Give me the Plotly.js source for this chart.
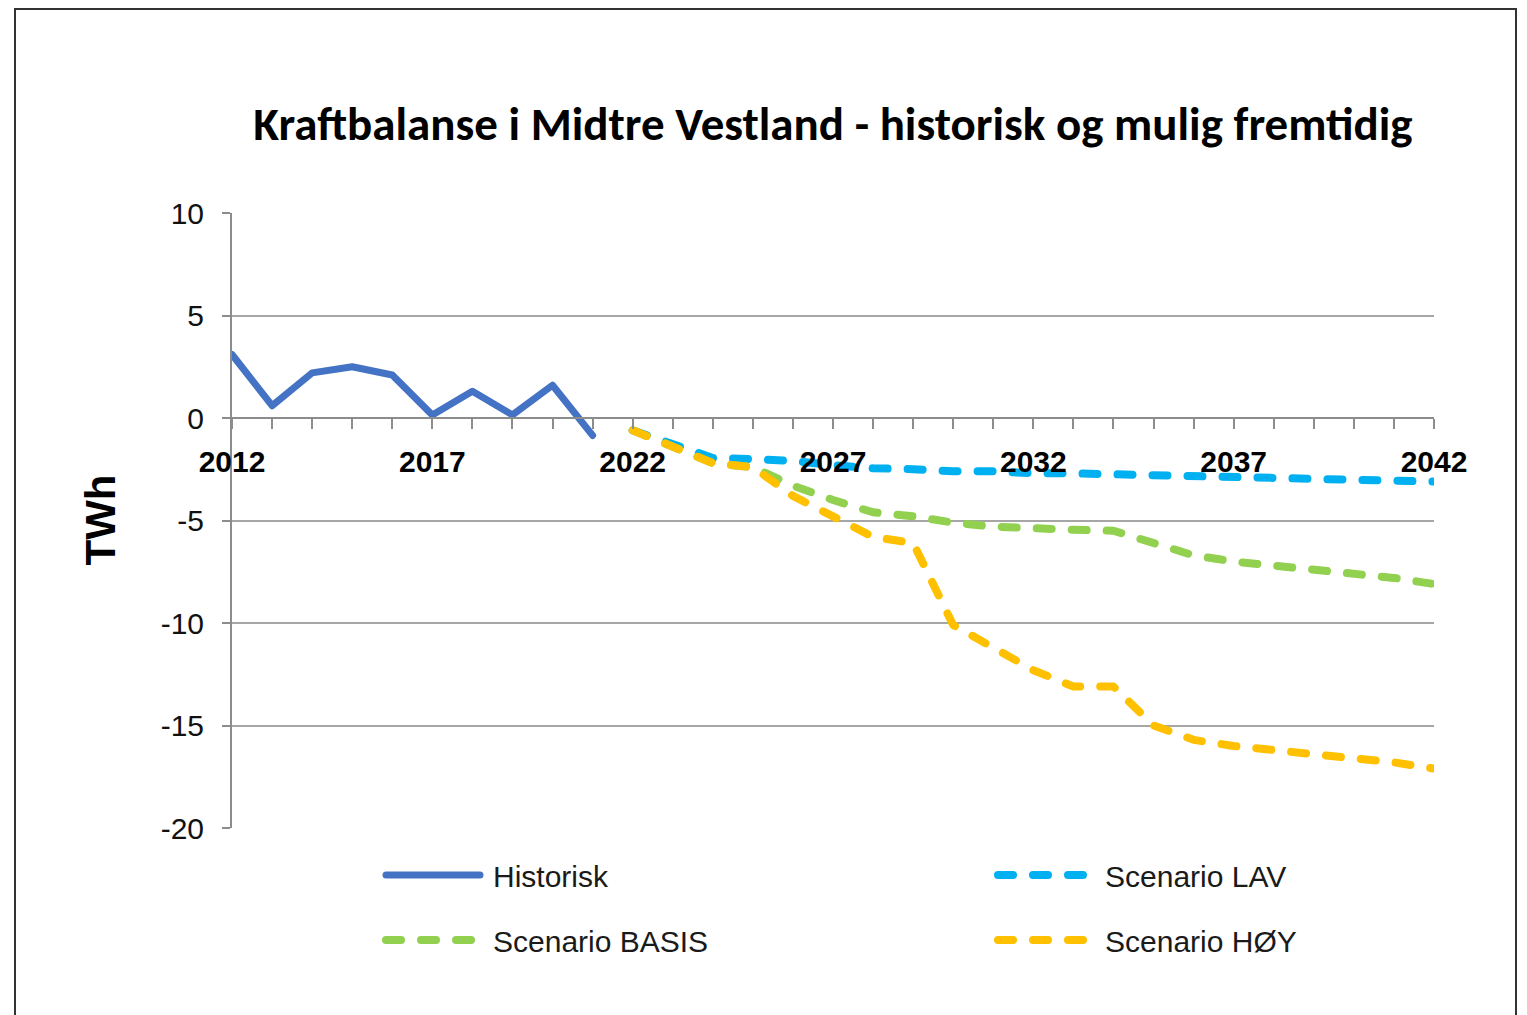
<!DOCTYPE html>
<html>
<head>
<meta charset="utf-8">
<script src="https://cdn.plot.ly/plotly-3.0.1.min.js"></script>
<style>
html,body{margin:0;padding:0;background:#fff;overflow:hidden;}
#chart{width:1527px;height:1015px;position:absolute;left:0;top:0;}
#frame{position:absolute;left:14px;top:8px;width:1503px;height:1040px;border:2px solid #333;box-sizing:border-box;pointer-events:none;}
.scatterlayer .js-line, .legendlines path{stroke-linecap:round;stroke-linejoin:round;}
</style>
</head>
<body>
<div id="chart"></div>
<div id="frame"></div>
<script>
const years = [2012,2013,2014,2015,2016,2017,2018,2019,2020,2021,2022,2023,2024,2025,2026,2027,2028,2029,2030,2031,2032,2033,2034,2035,2036,2037,2038,2039,2040,2041,2042];
const histYears = [2012,2013,2014,2015,2016,2017,2018,2019,2020,2021];
const historisk = [3.1,0.6,2.2,2.5,2.1,0.15,1.3,0.15,1.6,-0.85];
const scenYears = [2022,2023,2024,2025,2026,2027,2028,2029,2030,2031,2032,2033,2034,2035,2036,2037,2038,2039,2040,2041,2042];
const scenarioLav = [-0.6,-1.3,-1.95,-2.0,-2.1,-2.3,-2.45,-2.5,-2.6,-2.6,-2.7,-2.7,-2.75,-2.8,-2.8,-2.9,-2.95,-3.0,-3.0,-3.1,-3.1];
const scenarioBasis = [-0.6,-1.4,-2.2,-2.4,-3.3,-4.0,-4.6,-4.8,-5.1,-5.3,-5.4,-5.45,-5.5,-6.1,-6.7,-7.0,-7.2,-7.4,-7.6,-7.8,-8.1];
const scenarioHoy = [-0.6,-1.4,-2.2,-2.4,-3.8,-4.8,-5.8,-6.1,-10.1,-11.2,-12.3,-13.1,-13.1,-15.0,-15.7,-16.0,-16.2,-16.4,-16.6,-16.8,-17.1];
const xTickText = years.map(y => ((y - 2012) % 5 === 0) ? String(y) : '');
const yTicks = [10,5,0,-5,-10,-15,-20];
const names = ['Historisk','Scenario LAV','Scenario BASIS','Scenario HØY'];
const colors = ['#4472C4','#00B0F0','#92D050','#FFC000'];

const dashPat = '15px,20px';
const traces = [
  {x: histYears, y: historisk, name: names[0], type:'scatter', mode:'lines', line:{color:colors[0], width:7}, legend:'legend'},
  {x: scenYears, y: scenarioLav, name: names[1], type:'scatter', mode:'lines', line:{color:colors[1], width:8, dash:dashPat}, legend:'legend2'},
  {x: scenYears, y: scenarioBasis, name: names[2], type:'scatter', mode:'lines', line:{color:colors[2], width:8, dash:dashPat}, legend:'legend3'},
  {x: scenYears, y: scenarioHoy, name: names[3], type:'scatter', mode:'lines', line:{color:colors[3], width:8, dash:dashPat}, legend:'legend4'}
];

const legendCommon = {
  orientation:'h', xanchor:'left', yanchor:'middle', itemwidth:107,
  bgcolor:'rgba(0,0,0,0)', font:{family:'Liberation Sans, Arial, sans-serif', size:30, color:'#1a1a1a'}
};
const col1 = (376-232)/1202, col2 = (988-232)/1202;
const row1 = (828-875)/615, row2 = (828-940)/615;

const layout = {
  width:1527, height:1015,
  margin:{l:232, r:93, t:213, b:187},
  paper_bgcolor:'#fff', plot_bgcolor:'#fff',
  showlegend:true,
  title:{text:'Kraftbalanse i Midtre Vestland - historisk og mulig fremtidig',
    font:{family:'Carlito, Calibri, Lato, sans-serif', size:47, color:'#000', weight:'bold'},
    x:0.5, xref:'paper', xanchor:'center', y:1-124/1015, yref:'container', yanchor:'middle'},
  xaxis:{range:[2012,2042], anchor:'free', position:2/3, showline:true, linecolor:'#8c8c8c', linewidth:2,
    ticks:'outside', ticklen:10, tickwidth:2, tickcolor:'#8c8c8c', tickvals:years, ticktext:xTickText,
    tickfont:{family:'Liberation Sans, Arial, sans-serif', size:30, color:'#000', weight:'bold'},
    ticklabelstandoff:7, showgrid:false, zeroline:false, fixedrange:true},
  yaxis:{range:[-20,10], tickvals:yTicks, ticktext:yTicks.map(String), showline:true, linecolor:'#8c8c8c', linewidth:2,
    ticks:'outside', ticklen:8, tickwidth:2, tickcolor:'#8c8c8c', showgrid:true, gridcolor:'#a6a6a6', gridwidth:2,
    zeroline:false, tickfont:{family:'Liberation Sans, Arial, sans-serif', size:30, color:'#111'}, ticklabelstandoff:12, fixedrange:true},
  legend: Object.assign({}, legendCommon, {x:col1, y:row1}),
  legend2: Object.assign({}, legendCommon, {x:col2, y:row1}),
  legend3: Object.assign({}, legendCommon, {x:col1, y:row2}),
  legend4: Object.assign({}, legendCommon, {x:col2, y:row2}),
  annotations:[{text:'<b>TWh</b>', xref:'paper', yref:'paper', x:(100-232)/1202, y:0.5, xanchor:'center', yanchor:'middle',
    textangle:-90, showarrow:false, font:{family:'Liberation Sans, Arial, sans-serif', size:42, color:'#000'}}]
};

Plotly.newPlot('chart', traces, layout, {displayModeBar:false, staticPlot:true}).then(gd => {
  gd.querySelectorAll('.legendlines path').forEach(p => {
    const d = p.getAttribute('d') || '';
    const m = d.match(/^M([-\d.]+),([-\d.]+)/);
    if (m) p.setAttribute('d', 'M' + (parseFloat(m[1]) + 5) + ',' + m[2] + 'h94');
  });
});
</script>
</body>
</html>
